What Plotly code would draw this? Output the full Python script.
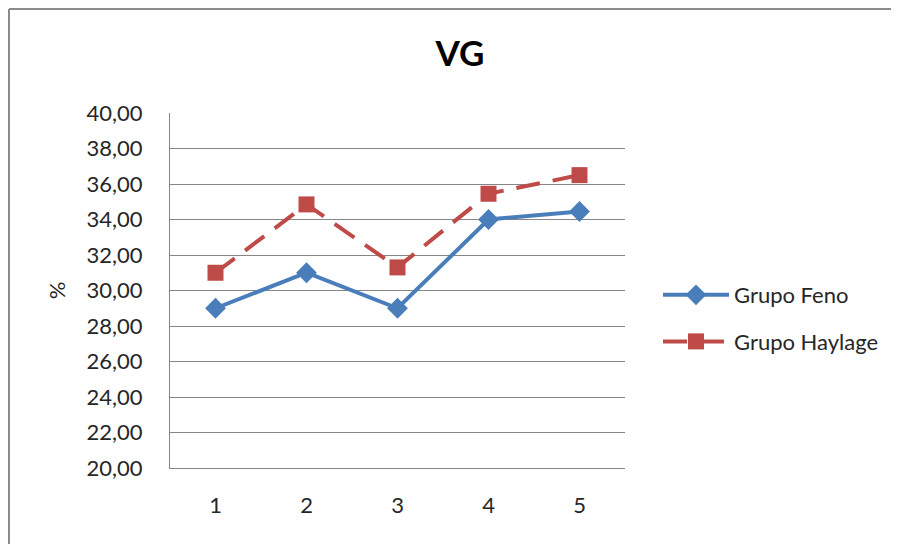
import plotly.graph_objects as go

categories = ["1", "2", "3", "4", "5"]
feno = [29.0, 31.0, 29.0, 34.0, 34.45]
haylage = [31.0, 34.85, 31.3, 35.45, 36.5]
y_ticks = [20, 22, 24, 26, 28, 30, 32, 34, 36, 38, 40]

# page is offset by 8px body margin
OFF = 8
W, H = 899 - OFF, 545 - OFF
L, T = 170 - OFF, 113 - OFF
pw, ph = 455, 355
R = W - L - pw
B = H - T - ph

FONT = "Lato"
BLUE = "#4A7EBB"
RED = "#BE4B48"
TXT = "#262626"
BORDER = "#8A8A8A"

fig = go.Figure()
fig.add_trace(go.Scatter(
    x=categories, y=feno, name="Grupo Feno", mode="lines+markers",
    line=dict(color=BLUE, width=4),
    marker=dict(symbol="diamond", size=16, color=BLUE),
    legendgroup="a",
))
fig.add_trace(go.Scatter(
    x=categories, y=haylage, name="Grupo Haylage", mode="lines+markers",
    line=dict(color=RED, width=4, dash="24px,13px"),
    marker=dict(symbol="square", size=16, color=RED),
    legendgroup="b",
))


def px2x(px):
    return (px - OFF - L) / pw


def py2y(py):
    return 1 - (py - OFF - T) / ph


fig.update_layout(
    width=W, height=H,
    margin=dict(l=L, r=R, t=T, b=B, autoexpand=False),
    paper_bgcolor="white", plot_bgcolor="white",
    separators=",.",
    font=dict(family=FONT, color=TXT, size=22),
    title=dict(text="<b>VG</b>", x=(460 - OFF) / W, xanchor="center",
               y=1 - (54 - OFF) / H, yanchor="middle",
               font=dict(family=FONT, size=35, color="black")),
    xaxis=dict(
        type="category", range=[-0.5, 4.5],
        showgrid=False, showline=True, linecolor="#868686", linewidth=1,
        ticks="", tickfont=dict(size=22, color=TXT),
        ticklabelstandoff=18,
    ),
    yaxis=dict(
        range=[20, 40], tickvals=y_ticks, tickformat=".2f",
        showgrid=True, gridcolor="#868686", gridwidth=1,
        showline=True, linecolor="#868686", linewidth=1,
        zeroline=False, ticks="", tickfont=dict(size=22, color=TXT),
        ticklabelstandoff=22,
        title=dict(text="%", font=dict(size=22, color=TXT), standoff=14),
    ),
    legend=dict(
        x=px2x(658), y=py2y(274), xanchor="left", yanchor="top",
        font=dict(size=22, color=TXT),
        traceorder="grouped", tracegroupgap=15,
        itemwidth=66,
        bgcolor="rgba(0,0,0,0)",
    ),
    shapes=[
        dict(type="line", xref="paper", yref="paper",
             x0=px2x(9), x1=px2x(897), y0=py2y(9), y1=py2y(9),
             line=dict(color=BORDER, width=2), layer="below"),
        dict(type="line", xref="paper", yref="paper",
             x0=px2x(9), x1=px2x(9), y0=py2y(9), y1=py2y(544),
             line=dict(color=BORDER, width=2), layer="below"),
    ],
)

fig.write_html("out.html")
